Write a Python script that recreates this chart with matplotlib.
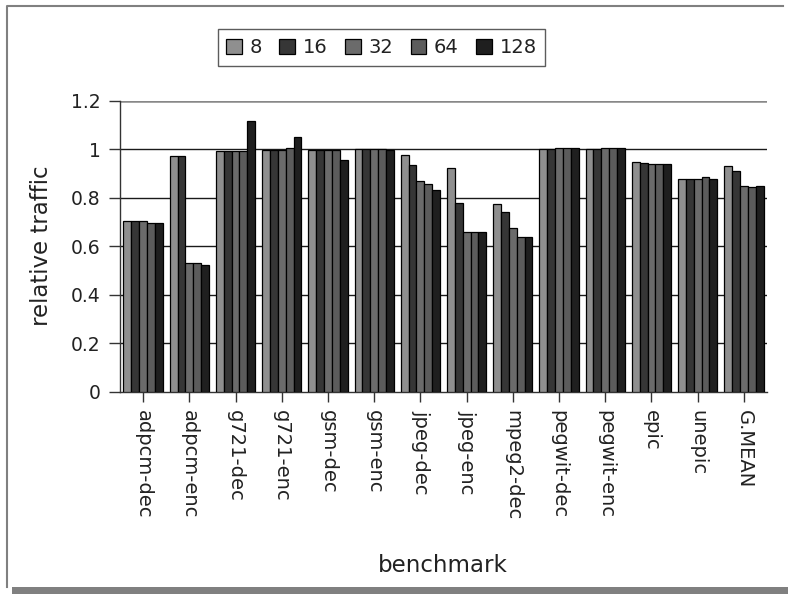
import numpy as np
import matplotlib
matplotlib.use("Agg")
from matplotlib import pyplot as plt
from matplotlib.patches import Patch, Rectangle
from matplotlib.lines import Line2D

benchmarks = ["adpcm-dec", "adpcm-enc", "g721-dec", "g721-enc", "gsm-dec",
              "gsm-enc", "jpeg-dec", "jpeg-enc", "mpeg2-dec", "pegwit-dec",
              "pegwit-enc", "epic", "unepic", "G.MEAN"]
sizes = ["8", "16", "32", "64", "128"]

traffic_8 = [0.703, 0.970, 0.993, 0.997, 0.997, 1.000, 0.975, 0.923, 0.773, 1.001, 1.000, 0.946, 0.879, 0.930]
traffic_16 = [0.703, 0.970, 0.993, 0.997, 0.997, 1.000, 0.934, 0.777, 0.743, 1.001, 1.000, 0.944, 0.879, 0.912]
traffic_32 = [0.703, 0.532, 0.993, 0.997, 0.997, 1.000, 0.868, 0.657, 0.673, 1.007, 1.006, 0.938, 0.879, 0.850]
traffic_64 = [0.696, 0.532, 0.993, 1.003, 0.997, 1.000, 0.858, 0.657, 0.637, 1.004, 1.005, 0.938, 0.884, 0.845]
traffic_128 = [0.696, 0.523, 1.117, 1.052, 0.956, 0.997, 0.833, 0.657, 0.637, 1.003, 1.005, 0.938, 0.876, 0.849]

series = [traffic_8, traffic_16, traffic_32, traffic_64, traffic_128]
colors = ["#8f8f8f", "#363636", "#6b6b6b", "#5c5c5c", "#1f1f1f"]

fig = plt.figure(figsize=(7.88, 5.94), dpi=100)
ax = fig.add_axes([120 / 788, 1 - 391.7 / 594, 647 / 788, 291 / 594])

x = np.arange(len(benchmarks))
w = 0.17
for i, vals in enumerate(series):
    ax.bar(x + (i - 2) * w, vals, width=w, color=colors[i],
           edgecolor="black", linewidth=0.9, zorder=3)

ax.set_xlim(-0.5, len(benchmarks) - 0.5)
ax.set_ylim(0, 1.2)
ax.set_yticks([0, 0.2, 0.4, 0.6, 0.8, 1.0, 1.2])
ax.set_yticklabels(["0", "0.2", "0.4", "0.6", "0.8", "1", "1.2"])
ax.set_xticks(x)
ax.set_xticklabels(benchmarks, rotation=-90, va="top", ha="center")

# horizontal gridlines, top one lighter
for yv in [0.2, 0.4, 0.6, 0.8, 1.0]:
    ax.axhline(yv, color="#1a1a1a", linewidth=1.0, zorder=1)
ax.axhline(1.2, color="#888888", linewidth=1.8, zorder=1)

for s in ["top", "right"]:
    ax.spines[s].set_visible(False)
ax.spines["left"].set_color("#333333")
ax.spines["bottom"].set_color("#333333")
ax.spines["left"].set_linewidth(1.0)
ax.spines["bottom"].set_linewidth(1.0)

ax.tick_params(axis="y", length=8, width=1.0, color="#333333", pad=6,
               labelsize=13.5, labelcolor="#222222")
ax.tick_params(axis="x", length=7.5, width=1.0, color="#333333", pad=6,
               labelsize=14, labelcolor="#222222")

ax.set_ylabel("relative traffic", fontsize=16.5, color="#222222", va="center")
ax.yaxis.set_label_coords(-0.1206, 0.502)
ax.set_xlabel("benchmark", fontsize=16.5, color="#222222", va="center")
ax.xaxis.set_label_coords(0.499, -0.596)

handles = [Patch(facecolor=c, edgecolor="black", linewidth=0.9) for c in colors]
leg = fig.legend(handles, sizes, loc="center", bbox_to_anchor=(381.5 / 788, 1 - 47.5 / 594),
                 ncol=5, fontsize=14, handlelength=0.8, handleheight=0.8,
                 handletextpad=0.4, columnspacing=0.9, fancybox=False,
                 frameon=True, borderpad=0.45)
leg.get_frame().set_edgecolor("#333333")
leg.get_frame().set_linewidth(1.0)
for t in leg.get_texts():
    t.set_color("#222222")

# outer frame: left and top border, drop shadow along the bottom
fig.patches.append(Rectangle((12 / 788, 0), 1.0, 7 / 594, transform=fig.transFigure,
                             facecolor="#808080", edgecolor="none", zorder=0))
fx0, fx1 = 7 / 788, 783 / 788
fy0, fy1 = 7 / 594, 1 - 6 / 594
fig.lines.append(Line2D([fx0, fx0, fx1], [fy0, fy1, fy1], transform=fig.transFigure,
                        color="#808080", linewidth=1.5))

fig.savefig("out.png", dpi=100)
